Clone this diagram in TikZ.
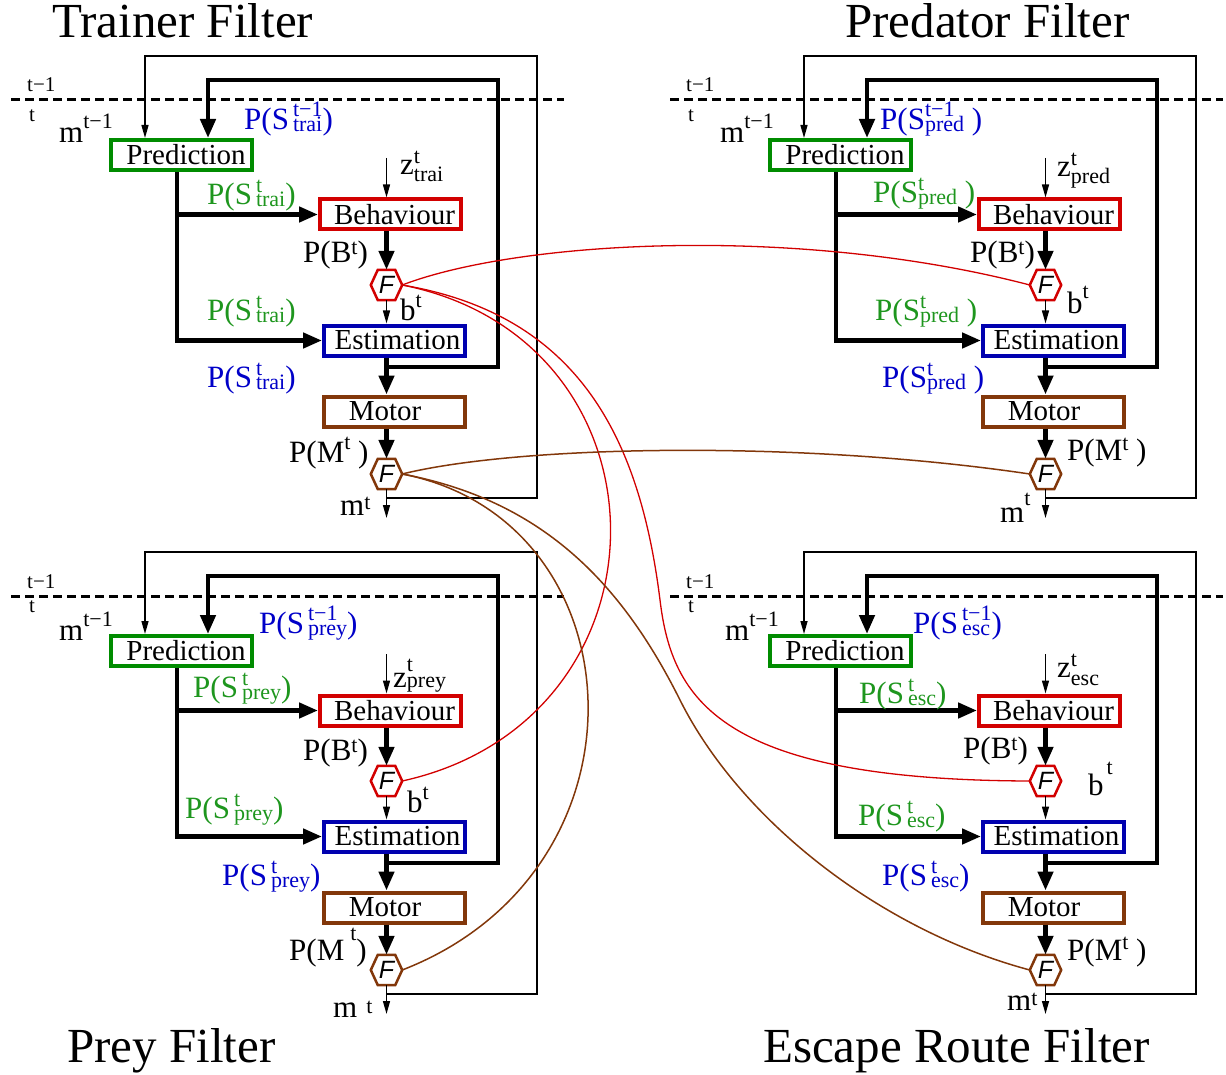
\documentclass[tikz,border=0pt]{standalone}
\usepackage{fontspec}
\setmainfont{Liberation Serif}
\newfontfamily\hexfam{Liberation Sans}
\usetikzlibrary{arrows.meta}

\definecolor{cgreen}{RGB}{0,140,0}
\definecolor{cgreenT}{RGB}{30,150,30}
\definecolor{cred}{RGB}{210,0,0}
\definecolor{cblue}{RGB}{0,0,175}
\definecolor{cblueT}{RGB}{0,0,200}
\definecolor{cbrown}{RGB}{130,55,10}

\newcommand\boxfont{\fontsize{29}{31}\selectfont}
\newcommand\labfont{\fontsize{31}{33}\selectfont}
\newcommand\smallfont{\fontsize{22}{23}\selectfont}
\newcommand\tickfont{\fontsize{21}{22}\selectfont}
\newcommand\titlefont{\fontsize{49}{52}\selectfont}
\newcommand\hexF{\hexfam\itshape\fontsize{25}{26}\selectfont}

% stacked super/subscript: #1 sup, #2 sub, #3 raise, #4 lower
\newcommand\sts[4]{{\smallfont\setbox0=\hbox{#1}\setbox2=\hbox{#2}\dimen0=\wd0 \ifdim\wd2>\dimen0 \dimen0=\wd2 \fi\hbox to \dimen0{\rlap{\raise#3\box0}\lower#4\box2\hss}}}
\newcommand\tsup[2]{{\smallfont\raise#2\hbox{#1}}}

\tikzset{
  bx/.style={draw, line width=4pt, minimum width=141pt, minimum height=30pt, inner sep=0pt, font=\boxfont},
  hx/.style={minimum width=31pt, minimum height=30pt, inner sep=0pt, font=\hexF},
  thkarr/.style={line width=4.5pt, -{Triangle[length=19pt,width=15pt]}},
  thnarr/.style={line width=1.4pt, -{Triangle[length=13pt,width=7pt]}},
  dsh/.style={line width=3pt, dash pattern=on 9pt off 5pt},
  lab/.style={anchor=base west, inner sep=0pt, font=\labfont},
  sml/.style={anchor=base west, inner sep=0pt, font=\tickfont},
  ttl/.style={anchor=base west, inner sep=0pt, font=\titlefont},
  hexr/.style={draw=cred, line width=2.5pt},
  hexb/.style={draw=cbrown, line width=2.5pt},
  redc/.style={draw=cred, line width=1.3pt},
  brownc/.style={draw=cbrown, line width=1.5pt},
}

\newcommand\hexpath[2]{\draw[#2] (#1.west) -- ([xshift=7pt]#1.north west) -- ([xshift=-7pt]#1.north east) -- (#1.east) -- ([xshift=-7pt]#1.south east) -- ([xshift=7pt]#1.south west) -- cycle;}

% #1 prefix, #2 dx, #3 dy, #4 baseline of the "t" label
\newcommand\filter[4]{%
\begin{scope}[shift={(#2,#3)}]
  \node[bx,draw=cgreen] (#1pred) at (181,155) {\hspace*{10pt}Prediction};
  \node[bx,draw=cred] (#1beh) at (390.5,214.5) {\hspace*{8pt}Behaviour};
  \node[bx,draw=cblue] (#1est) at (394.5,340.5) {\hspace*{6pt}Estimation};
  \node[bx,draw=cbrown] (#1mot) at (394.5,411.5) {Motor\hspace*{19pt}};
  \node[hx] (#1hb) at (386.5,285) {F};
  \node[hx] (#1hm) at (386.5,474) {F};
  \hexpath{#1hb}{hexr}
  \hexpath{#1hm}{hexb}
  \coordinate (#1tl) at (145,56);
  \coordinate (#1tr) at (537,56);
  \coordinate (#1lj) at (386.5,498);
  \coordinate (#1me) at (386.5,518);
  \coordinate (#1kl) at (208,80);
  \coordinate (#1kr) at (498,80);
  \coordinate (#1kj) at (386.5,367);
  \coordinate (#1lx) at (177,250);
  \coordinate (#1zs) at (386.5,158);
  \coordinate (#1dl) at (11,100);
  \coordinate (#1dr) at (564,100);
  \draw[dsh] (#1dl) -- (#1dr);
  \draw[thnarr] (#1lj) -- (#1lj -| #1tr) -- (#1tr) -- (#1tl) -- (#1tl |- #1pred.north);
  \draw[thkarr] (#1kj) -- (#1kj -| #1kr) -- (#1kr) -- (#1kl) -- (#1kl |- #1pred.north);
  \draw[thkarr] (#1pred.south -| #1lx) |- (#1est.west);
  \draw[thkarr] (#1lx |- #1beh.west) -- (#1beh.west);
  \draw[thnarr] (#1zs) -- (#1zs |- #1beh.north);
  \draw[thkarr] (#1beh.south -| #1hb.north) -- (#1hb.north);
  \draw[thnarr] (#1hb.south) -- (#1hb.south |- #1est.north);
  \draw[thkarr] (#1est.south -| #1hb.north) -- (#1mot.north -| #1hb.north);
  \draw[thkarr] (#1mot.south -| #1hm.north) -- (#1hm.north);
  \draw[thnarr] (#1hm.south) -- (#1me);
  \node[sml] (#1tm) at (27,92) {t−1};
  \node[sml] (#1tt) at (29,#4) {t};
\end{scope}}

\begin{document}
\begin{tikzpicture}[x=1pt,y=-1pt]
\useasboundingbox (0,0) rectangle (1226,1075);

\filter{tr}{0}{0}{122}
\filter{pd}{659}{0}{122}
\filter{py}{0}{496}{116}
\filter{es}{659}{496}{116}

% titles
\node[ttl] (ttr) at (52,38) {Trainer Filter};
\node[ttl] (tpd) at (845,38) {Predator Filter};
\node[ttl] (tpy) at (67,1062) {Prey Filter};
\node[ttl] (tes) at (763,1062) {Escape Route Filter};

% Trainer labels
\node[lab] (trm1) at (59,143) {m\tsup{t−1}{14pt}};
\node[lab,text=cblueT] (trs0) at (244,130) {P(S\hspace{4pt}\sts{t−1}{trai}{13pt}{2pt})};
\node[lab] (trz) at (400,175) {z\sts{t}{trai}{11pt}{7pt}};
\node[lab,text=cgreenT] (trg1) at (207,205) {P(S\hspace{4pt}\sts{t}{trai}{12pt}{2pt})};
\node[lab] (trpb) at (303,263) {P(B\tsup{t}{8pt})};
\node[lab] (trbt) at (400,320) {b\tsup{t}{13pt}};
\node[lab,text=cgreenT] (trg2) at (207,320) {P(S\hspace{4pt}\sts{t}{trai}{12pt}{2pt})};
\node[lab,text=cblueT] (trb2) at (207,387) {P(S\hspace{4pt}\sts{t}{trai}{12pt}{2pt})};
\node[lab] (trpm) at (289,462) {P(M\tsup{t}{13pt}\ )};
\node[lab] (trmt) at (340,515) {m\tsup{t}{6pt}};

% Predator labels
\node[lab] (pdm1) at (720,143) {m\tsup{t−1}{14pt}};
\node[lab,text=cblueT] (pds0) at (880,130) {P(S\sts{t−1}{pred}{13pt}{2pt}\ )};
\node[lab] (pdz) at (1057,177) {z\sts{t}{pred}{11pt}{7pt}};
\node[lab,text=cgreenT] (pdg1) at (873,203) {P(S\sts{t}{pred}{12pt}{2pt}\ )};
\node[lab] (pdpb) at (970,263) {P(B\tsup{t}{8pt})};
\node[lab] (pdbt) at (1067,313) {b\tsup{t}{14pt}};
\node[lab,text=cgreenT] (pdg2) at (875,320) {P(S\sts{t}{pred}{12pt}{2pt}\ )};
\node[lab,text=cblueT] (pdb2) at (882,387) {P(S\sts{t}{pred}{12pt}{2pt}\ )};
\node[lab] (pdpm) at (1067,460) {P(M\tsup{t}{10pt}\ )};
\node[lab] (pdmt) at (1000,522) {m\tsup{t}{17pt}};

% Prey labels
\node[lab] (pym1) at (59,640) {m\tsup{t−1}{14pt}};
\node[lab,text=cblueT] (pys0) at (259,633) {P(S\hspace{4pt}\sts{t−1}{prey}{13pt}{2pt})};
\node[lab] (pyz) at (393,687) {z\sts{t}{prey}{16pt}{0pt}};
\node[lab,text=cgreenT] (pyg1) at (193,697) {P(S\hspace{4pt}\sts{t}{prey}{12pt}{2pt})};
\node[lab] (pypb) at (303,760) {P(B\tsup{t}{8pt})};
\node[lab] (pybt) at (407,812) {b\tsup{t}{13pt}};
\node[lab,text=cgreenT] (pyg2) at (185,818) {P(S\hspace{4pt}\sts{t}{prey}{12pt}{2pt})};
\node[lab,text=cblueT] (pyb2) at (222,885) {P(S\hspace{4pt}\sts{t}{prey}{12pt}{2pt})};
\node[lab] (pypm) at (289,960) {P(M\hspace{6pt}\tsup{t}{20pt})};
\node[lab] (pymt) at (333,1017) {m\hspace{9pt}\tsup{t}{4pt}};

% Escape labels
\node[lab] (esm1) at (725,640) {m\tsup{t−1}{14pt}};
\node[lab,text=cblueT] (ess0) at (913,633) {P(S\hspace{4pt}\sts{t−1}{esc}{13pt}{2pt})};
\node[lab] (esz) at (1057,677) {z\sts{t}{esc}{11pt}{8pt}};
\node[lab,text=cgreenT] (esg1) at (859,703) {P(S\hspace{4pt}\sts{t}{esc}{12pt}{2pt})};
\node[lab] (espb) at (963,758) {P(B\tsup{t}{8pt})};
\node[lab] (esbt) at (1088,795) {b\hspace{3pt}\tsup{t}{21pt}};
\node[lab,text=cgreenT] (esg2) at (858,825) {P(S\hspace{4pt}\sts{t}{esc}{12pt}{2pt})};
\node[lab,text=cblueT] (esb2) at (882,885) {P(S\hspace{4pt}\sts{t}{esc}{12pt}{2pt})};
\node[lab] (espm) at (1067,960) {P(M\tsup{t}{11pt}\ )};
\node[lab] (esmt) at (1007,1010) {m\tsup{t}{5pt}};

% links between filters
\coordinate (rc1) at (660,600);
\coordinate (bc1) at (680,700);
\draw[redc] (trhb.east) .. controls (520,240) and (800,225) .. (pdhb.west);
\draw[redc] (trhb.east) .. controls (680,340) and (680,720) .. (pyhb.east);
\draw[redc] (trhb.east) .. controls (580,315) and (640,440) .. (rc1) .. controls (672,700) and (720,780) .. (eshb.west);
\draw[brownc] (trhm.east) .. controls (520,445) and (800,440) .. (pdhm.west);
\draw[brownc] (trhm.east) .. controls (640,520) and (660,870) .. (pyhm.east);
\draw[brownc] (trhm.east) .. controls (540,500) and (620,580) .. (bc1) .. controls (740,820) and (880,930) .. (eshm.west);
\end{tikzpicture}
\end{document}
